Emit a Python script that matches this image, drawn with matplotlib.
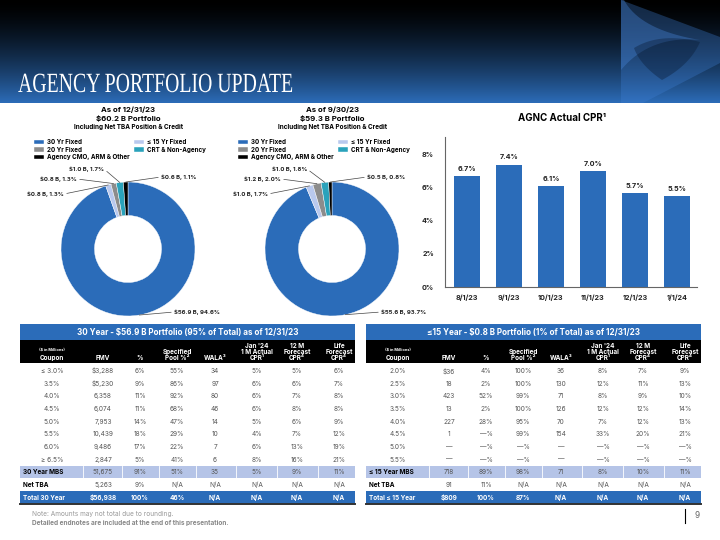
import numpy as np
import matplotlib
matplotlib.use("Agg")
import matplotlib.pyplot as plt
from matplotlib.patches import Rectangle, Polygon
from matplotlib import patheffects
from matplotlib.transforms import Affine2D

plt.rcParams["font.family"] = ["Inter", "DejaVu Sans"]

# ============================
# 1. DATA
# ============================

seg_names = ["30 Yr Fixed", "≤ 15 Yr Fixed", "20 Yr Fixed", "CRT & Non-Agency", "Agency CMO, ARM & Other"]
seg_colors = ["#2b6cb9", "#b9c9ee", "#8c8c8c", "#2aa2bb", "#000000"]

dec_bn = [56.9, 0.8, 0.8, 1.0, 0.6]
dec_pct = [94.6, 1.3, 1.3, 1.7, 1.1]
sep_bn = [55.6, 1.0, 1.2, 1.0, 0.5]
sep_pct = [93.7, 1.7, 2.0, 1.8, 0.8]

cpr_months = ["8/1/23", "9/1/23", "10/1/23", "11/1/23", "12/1/23", "1/1/24"]
cpr_vals = [6.7, 7.4, 6.1, 7.0, 5.7, 5.5]

col_heads = ["Coupon", "FMV", "%", "Specified\nPool %²", "WALA³",
             "Jan '24\n1 M Actual\nCPR¹", "12 M\nForecast\nCPR⁴", "Life\nForecast\nCPR⁴"]

coupon_30 = ["≤ 3.0%", "3.5%", "4.0%", "4.5%", "5.0%", "5.5%", "6.0%", "≥ 6.5%",
             "30 Year MBS", "Net TBA", "Total 30 Year"]
fmv_30 = ["$3,288", "$5,230", "6,358", "6,074", "7,953", "10,439", "9,486", "2,847", "51,675", "5,263", "$56,938"]
pct_30 = ["6%", "9%", "11%", "11%", "14%", "18%", "17%", "5%", "91%", "9%", "100%"]
spec_30 = ["55%", "86%", "92%", "68%", "47%", "29%", "22%", "41%", "51%", "N/A", "46%"]
wala_30 = ["34", "97", "80", "46", "14", "10", "7", "6", "35", "N/A", "N/A"]
act_30 = ["5%", "6%", "6%", "6%", "5%", "4%", "6%", "8%", "5%", "N/A", "N/A"]
fc12_30 = ["5%", "6%", "7%", "8%", "6%", "7%", "13%", "16%", "9%", "N/A", "N/A"]
life_30 = ["6%", "7%", "8%", "8%", "9%", "12%", "19%", "21%", "11%", "N/A", "N/A"]

coupon_15 = ["2.0%", "2.5%", "3.0%", "3.5%", "4.0%", "4.5%", "5.0%", "5.5%",
             "≤ 15 Year MBS", "Net TBA", "Total ≤ 15 Year"]
fmv_15 = ["$36", "18", "423", "13", "227", "1", "—", "—", "718", "91", "$809"]
pct_15 = ["4%", "2%", "52%", "2%", "28%", "—%", "—%", "—%", "89%", "11%", "100%"]
spec_15 = ["100%", "100%", "99%", "100%", "95%", "99%", "—%", "—%", "98%", "N/A", "87%"]
wala_15 = ["36", "130", "71", "126", "70", "154", "—", "—", "71", "N/A", "N/A"]
act_15 = ["8%", "12%", "8%", "12%", "7%", "33%", "—%", "—%", "8%", "N/A", "N/A"]
fc12_15 = ["7%", "11%", "9%", "12%", "12%", "20%", "—%", "—%", "10%", "N/A", "N/A"]
life_15 = ["9%", "13%", "10%", "14%", "13%", "21%", "—%", "—%", "11%", "N/A", "N/A"]

BLUE = "#2b6cb9"
LAV = "#b5c4e7"

# ============================
# 2. FIGURE + PIXEL BACKGROUND AXES
# ============================

fig = plt.figure(figsize=(7.2, 5.4), dpi=100)
bg = fig.add_axes([0, 0, 1, 1])

# header gradient
t = np.linspace(0, 1, 200)[:, None]
blue_rgb = np.array([44, 108, 184]) / 255.0
grad = (t ** 1.5)[:, :, None] * blue_rgb[None, None, :]
grad = np.repeat(grad, 2, axis=1)
bg.imshow(grad, extent=(0, 720, 103, 0), aspect="auto", zorder=0)

# logo shapes
def bez(p0, p1, p2, n=20):
    s = np.linspace(0, 1, n)[:, None]
    p0, p1, p2 = map(np.array, (p0, p1, p2))
    return (1 - s) ** 2 * p0 + 2 * (1 - s) * s * p1 + s ** 2 * p2

bg.add_patch(Polygon([(621, 0), (720, 37), (720, 63), (643, 103), (621, 103)],
                     closed=True, fc="#3f80d6", alpha=0.32, lw=0, zorder=1))
bg.add_patch(Polygon(np.vstack([[(621, 0), (624, 0)], bez((624, 0), (640, 30), (700, 40)),
                                bez((700, 40), (650, 35), (621, 70))]),
                     closed=True, fc="#4a8ae0", alpha=0.35, lw=0, zorder=1))
lens = np.vstack([bez((634, 48), (660, 32), (700, 42)),
                  bez((700, 42), (690, 65), (662, 80)),
                  bez((662, 80), (640, 65), (634, 48))])
bg.add_patch(Polygon(lens, closed=True, fc="#06152b", alpha=0.35, lw=0, zorder=1))

bg.set_xlim(0, 720)
bg.set_ylim(540, 0)
bg.axis("off")

# title (condensed by an x-scale path effect)
class XScale(patheffects.AbstractPathEffect):
    def __init__(self, sx, x0):
        super().__init__()
        self.sx = sx
        self.x0 = x0

    def draw_path(self, renderer, gc, tpath, affine, rgbFace=None):
        tr = affine + Affine2D().translate(-self.x0, 0).scale(self.sx, 1).translate(self.x0, 0)
        renderer.draw_path(gc, tpath, tr, rgbFace)

title = bg.text(18, 92, "AGENCY PORTFOLIO UPDATE", color="white", fontsize=20,
                family=["Liberation Serif", "DejaVu Serif"], va="baseline", ha="left", zorder=3)
fig.canvas.draw()
tw = title.get_window_extent().width
title.set_path_effects([XScale(275.0 / tw, 18)])

# ============================
# 3. DONUTS
# ============================

def donut(cx, cy, bn, pct, head, label_pos):
    r = 67
    ax = fig.add_axes([(cx - r) / 720, 1 - (cy + r) / 540, 2 * r / 720, 2 * r / 540])
    wedges, _ = ax.pie(pct, colors=seg_colors, startangle=90, counterclock=False,
                       wedgeprops=dict(width=0.5, edgecolor="white", linewidth=0.3))
    ax.set_xlim(-1, 1)
    ax.set_ylim(-1, 1)
    for w, b, p, (lx, ly, ha) in zip(wedges, bn, pct, label_pos):
        ang = np.deg2rad((w.theta1 + w.theta2) / 2)
        ax.annotate(f"${b:.1f} B, {p:.1f}%", xy=(np.cos(ang), np.sin(ang)),
                    xytext=(lx, ly), textcoords=bg.transData, ha=ha, va="center",
                    fontsize=4.3, fontweight="bold", color="#222",
                    arrowprops=dict(arrowstyle="-", color="#444", lw=0.5, shrinkA=0, shrinkB=0,
                                    relpos=(1, 0.5) if ha == "right" else (0, 0.5)),
                    annotation_clip=False)
    bg.text(cx, 110, head[0], ha="center", va="center", fontsize=5.6, fontweight="bold")
    bg.text(cx, 118.5, head[1], ha="center", va="center", fontsize=5.6, fontweight="bold")
    bg.text(cx, 127, head[2], ha="center", va="center", fontsize=4.6, fontweight="bold")
    leg = fig.legend([wedges[0], wedges[2], wedges[4], wedges[1], wedges[3]],
                     [seg_names[0], seg_names[2], seg_names[4], seg_names[1], seg_names[3]],
                     ncol=2, loc="upper left", bbox_to_anchor=((cx - 94) / 720, 1 - 139 / 540),
                     frameon=False, fontsize=4.5, handlelength=1.6, handleheight=0.75,
                     handletextpad=0.5, labelspacing=0.25, columnspacing=0.6,
                     borderpad=0, borderaxespad=0)
    for tx in leg.get_texts():
        tx.set_fontweight("bold")

dx = 204
donut(128, 249, dec_bn, dec_pct, ["As of 12/31/23", "$60.2 B Portfolio", "Including Net TBA Position & Credit"],
      [(174, 312, "left"), (64, 194, "right"), (77, 179, "right"), (104, 169, "right"), (161, 177, "left")])
donut(128 + dx, 249, sep_bn, sep_pct, ["As of 9/30/23", "$59.3 B Portfolio", "Including Net TBA Position & Credit"],
      [(177 + dx, 312, "left"), (64 + dx, 194, "right"), (77 + dx, 179, "right"), (103 + dx, 169, "right"),
       (163 + dx, 177, "left")])

# ============================
# 4. CPR BAR CHART
# ============================

axb = fig.add_axes([445 / 720, 1 - 287 / 540, 252 / 720, 150 / 540])
x = np.arange(len(cpr_months))
bars = axb.bar(x, cpr_vals, width=0.62, color=BLUE)
axb.bar_label(bars, labels=[f"{v:.1f}%" for v in cpr_vals], padding=3, fontsize=5.2, fontweight="bold", color="#222")
axb.set_xlim(-0.52, 5.48)
axb.set_ylim(0, 9.07)
axb.set_yticks([0, 2, 4, 6, 8])
axb.set_yticklabels(["0%", "2%", "4%", "6%", "8%"])
axb.set_xticks(x)
axb.set_xticklabels(cpr_months)
axb.tick_params(length=0, labelsize=5.2, colors="#222")
axb.tick_params(axis="y", pad=8)
axb.tick_params(axis="x", pad=5.5)
for lab in axb.get_xticklabels() + axb.get_yticklabels():
    lab.set_fontweight("bold")
for s in ["top", "right"]:
    axb.spines[s].set_visible(False)
for s in ["left", "bottom"]:
    axb.spines[s].set_color("#666")
    axb.spines[s].set_linewidth(0.8)
bg.text(562, 118, "AGNC Actual CPR¹", ha="center", va="center", fontsize=7, fontweight="bold")

# ============================
# 5. TABLES
# ============================

col_x = [32, 83, 120, 157, 195, 237, 277, 319]
bounds = [63, 101.5, 138.5, 176, 216, 257, 298]
row_y0, row_dy = 371, 12.65


def draw_table(x0, title_txt, cols):
    w = 335
    bg.add_patch(Rectangle((x0, 324), w, 16, fc=BLUE, lw=0, zorder=2))
    bg.add_patch(Rectangle((x0, 340), w, 23, fc="black", lw=0, zorder=2))
    bg.text(x0 + w / 2, 332.5, title_txt, ha="center", va="center", color="white",
            fontsize=5.8, fontweight="bold", zorder=3)
    for cx, h in zip(col_x, col_heads):
        bg.text(x0 + cx, 361, h, ha="center", va="bottom", color="white", fontsize=4.6,
                fontweight="bold", linespacing=1.05, zorder=3)
    bg.text(x0 + col_x[0], 350, "($ in Millions)", ha="center", va="center", color="white",
            fontsize=2.8, fontweight="bold", zorder=3)
    n = len(cols[0])
    ys = [row_y0 + row_dy * i for i in range(n)]
    # subtotal and total bands
    bg.add_patch(Rectangle((x0, ys[-3] - 6.2), w, 12.4, fc=LAV, lw=0, zorder=2))
    bg.add_patch(Rectangle((x0, ys[-1] - 6.2), w, 12.4, fc=BLUE, lw=0, zorder=2))
    bg.plot([x0, x0 + w], [ys[-1] + 6.9, ys[-1] + 6.9], color="#333", lw=1.4, zorder=3)
    for b in bounds:
        bg.plot([x0 + b, x0 + b], [ys[-3] - 6.2, ys[-3] + 6.2], color="white", lw=0.6, zorder=2.5)
    for i, y in enumerate(ys):
        label_row = i >= n - 3
        total = i == n - 1
        for j, cx in enumerate(col_x):
            txt = cols[j][i]
            if j == 0 and label_row:
                bg.text(x0 + 3, y, txt, ha="left", va="center", fontsize=4.6, fontweight="bold",
                        color="white" if total else "black", zorder=3)
            else:
                bg.text(x0 + cx, y, txt, ha="center", va="center", fontsize=4.7,
                        fontweight="bold" if total else "normal",
                        color="white" if total else "#555", zorder=3)


draw_table(20, "30 Year - $56.9 B Portfolio (95% of Total) as of 12/31/23",
           [coupon_30, fmv_30, pct_30, spec_30, wala_30, act_30, fc12_30, life_30])
draw_table(366, "≤15 Year - $0.8 B Portfolio (1% of Total) as of 12/31/23",
           [coupon_15, fmv_15, pct_15, spec_15, wala_15, act_15, fc12_15, life_15])

# ============================
# 6. FOOTER
# ============================

bg.text(32, 514, "Note: Amounts may not total due to rounding.", ha="left", va="center",
        fontsize=4.7, color="#999")
bg.text(32, 523, "Detailed endnotes are included at the end of this presentation.", ha="left", va="center",
        fontsize=4.7, color="#888", fontweight="bold")
bg.plot([685, 685], [509, 523], color="black", lw=0.8)
bg.text(697, 516, "9", ha="center", va="center", fontsize=6, color="#666")

fig.savefig("out.png", dpi=100)
